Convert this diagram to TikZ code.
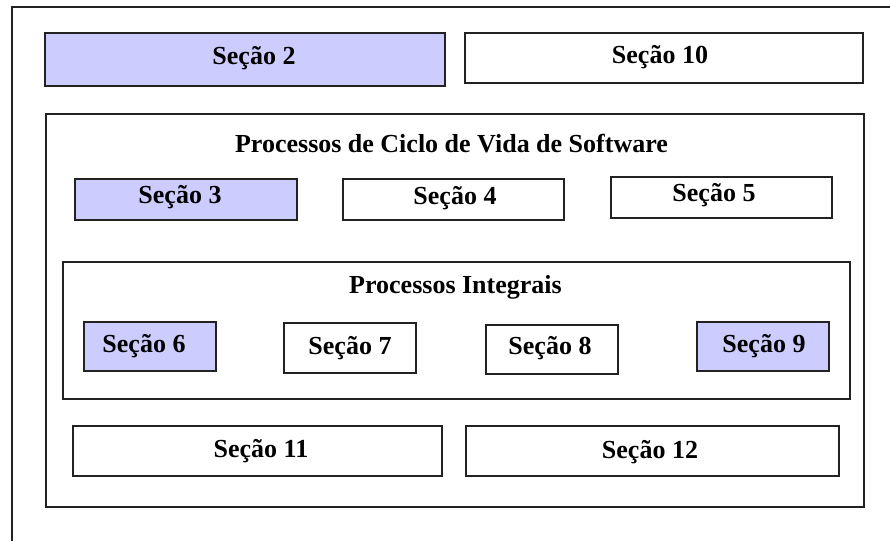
\documentclass[tikz,border=0pt]{standalone}
\usepackage{fontspec}
\setmainfont{Liberation Serif}
\definecolor{lav}{HTML}{CCCCFF}
\definecolor{edge}{HTML}{222222}
\begin{document}
\begin{tikzpicture}[x=1pt,y=-1pt,
  box/.style={draw=edge,line width=2.2pt,rectangle,inner sep=0pt,fill=white},
  hl/.style={box,fill=lav},
  lbl/.style={anchor=base,inner sep=0pt,font=\fontsize{26}{30}\selectfont\bfseries}]
\useasboundingbox (0,0) rectangle (890,541);
\fill[white] (0,0) rectangle (890,541);
\coordinate (ftr) at (890,7);
\coordinate (ftl) at (12,7);
\coordinate (fbl) at (12,541);
\draw[edge,line width=2.2pt] (ftr) -- (ftl) -- (fbl);
% top row
\node[hl,minimum width=400pt,minimum height=53pt] (s2) at (245,59.5) {};
\node[box,minimum width=398pt,minimum height=50pt] (s10) at (664,58) {};
% life cycle box
\node[box,minimum width=818pt,minimum height=393pt] (big) at (455,310.5) {};
\node[hl,minimum width=222pt,minimum height=41pt] (s3) at (186,199.5) {};
\node[box,minimum width=221pt,minimum height=41pt] (s4) at (453.5,199.5) {};
\node[box,minimum width=221pt,minimum height=41pt] (s5) at (721.5,197.5) {};
% integral box
\node[box,minimum width=787pt,minimum height=137pt] (integ) at (456.5,330.5) {};
\node[hl,minimum width=132pt,minimum height=49pt] (s6) at (150,346.5) {};
\node[box,minimum width=132pt,minimum height=50pt] (s7) at (350,348) {};
\node[box,minimum width=132pt,minimum height=49pt] (s8) at (552,349.5) {};
\node[hl,minimum width=132pt,minimum height=49pt] (s9) at (763,346.5) {};
% bottom row
\node[box,minimum width=369pt,minimum height=50pt] (s11) at (257.5,451) {};
\node[box,minimum width=373pt,minimum height=50pt] (s12) at (652.5,451) {};
% labels
\node[lbl] (l2) at (254,64) {Seção 2};
\node[lbl] (l10) at (660,63) {Seção 10};
\node[lbl] (lbig) at (451.5,152) {Processos de Ciclo de Vida de Software};
\node[lbl] (l3) at (180,203) {Seção 3};
\node[lbl] (l4) at (455,204) {Seção 4};
\node[lbl] (l5) at (714,201) {Seção 5};
\node[lbl] (linteg) at (455.5,293) {Processos Integrais};
\node[lbl] (l6) at (144,352) {Seção 6};
\node[lbl] (l7) at (350,354) {Seção 7};
\node[lbl] (l8) at (550,354) {Seção 8};
\node[lbl] (l9) at (764,352) {Seção 9};
\node[lbl] (l11) at (261,457) {Seção 11};
\node[lbl] (l12) at (650,458) {Seção 12};
\end{tikzpicture}
\end{document}
